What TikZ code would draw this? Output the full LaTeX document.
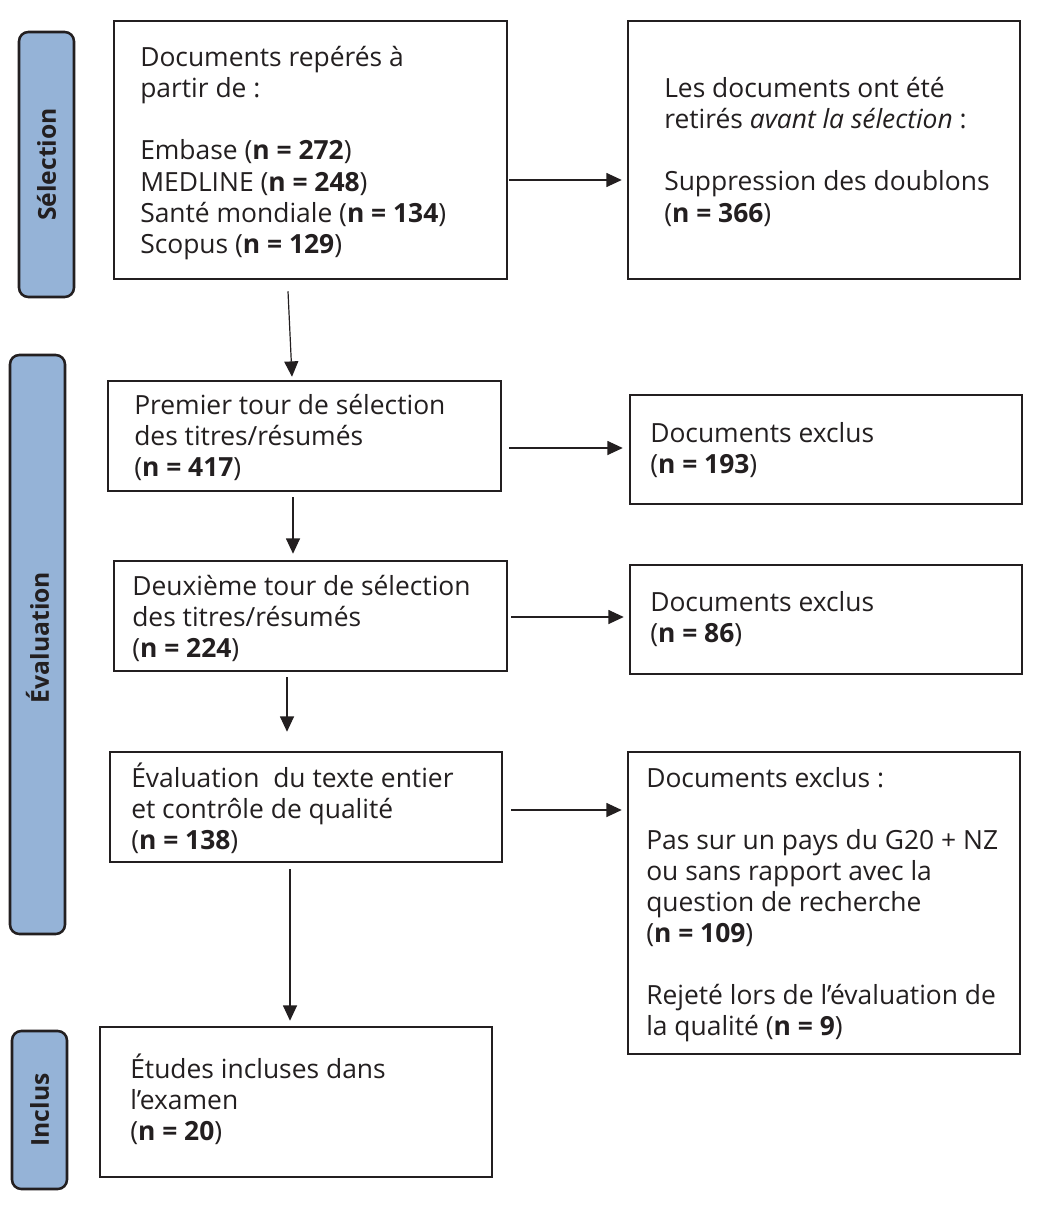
\documentclass[tikz,border=0pt]{standalone}
\usepackage{fontspec}
\setmainfont{Open Sans}
\usetikzlibrary{arrows.meta,calc}
\definecolor{tabblue}{RGB}{149,179,215}
\definecolor{ink}{RGB}{35,31,32}
\newcommand{\blankline}{\\[23.25pt]}
\newcommand{\tb}[1]{\parbox[t]{300pt}{\raggedright\fontsize{19.8pt}{23.25pt}\selectfont #1}}
\tikzset{
  box/.style={draw=ink, line width=1.9pt, inner sep=0pt, fill=white},
  tab/.style={draw=ink, line width=1.9pt, fill=tabblue, rounded corners=7pt, inner sep=0pt,
              font=\fontsize{18.5pt}{21pt}\selectfont\bfseries, text=ink},
  txt/.style={anchor=base west, inner sep=0pt, text=ink},
  arr/.style={draw=ink, line width=0.9pt, -{Triangle[length=11.5pt,width=10.5pt]}}
}
\begin{document}
\begin{tikzpicture}[x=0.75pt,y=-0.75pt]
\useasboundingbox[fill=white] (0,0) rectangle (1042,1206);

% side tabs
\node[tab, minimum width={55*0.75pt}, minimum height={265*0.75pt}] (tsel) at (46.5,164.5) {\rotatebox{90}{Sélection}};
\node[tab, minimum width={55*0.75pt}, minimum height={579*0.75pt}] (teval) at (37.5,644.5) {\rotatebox{90}{\hspace*{10.5pt}Évaluation}};
\node[tab, minimum width={55*0.75pt}, minimum height={158*0.75pt}] (tinc) at (39.5,1110) {\rotatebox{90}{Inclus}};

% boxes
\node[box, minimum width={393*0.75pt}, minimum height={258*0.75pt}] (b1) at (310.5,150) {};
\node[box, minimum width={392*0.75pt}, minimum height={258*0.75pt}] (r1) at (824,150) {};
\node[box, minimum width={393*0.75pt}, minimum height={110*0.75pt}] (b2) at (304.5,436) {};
\node[box, minimum width={392*0.75pt}, minimum height={109*0.75pt}] (r2) at (826,449.5) {};
\node[box, minimum width={393*0.75pt}, minimum height={110*0.75pt}] (b3) at (310.5,616) {};
\node[box, minimum width={392*0.75pt}, minimum height={109*0.75pt}] (r3) at (826,619.5) {};
\node[box, minimum width={392*0.75pt}, minimum height={110*0.75pt}] (b4) at (306,807) {};
\node[box, minimum width={392*0.75pt}, minimum height={302*0.75pt}] (r4) at (824,903) {};
\node[box, minimum width={392*0.75pt}, minimum height={150*0.75pt}] (b5) at (296,1102) {};

% texts
\node[txt] (x1) at (140,67) {\tb{Documents repérés à\\ partir de :\blankline Embase (\textbf{n = 272})\\ MEDLINE (\textbf{n = 248})\\ Santé mondiale (\textbf{n = 134})\\ Scopus (\textbf{n = 129})}};
\node[txt] (y1) at (664,98) {\tb{Les documents ont été\\ retirés \textit{avant la sélection} :\blankline Suppression des doublons\\ (\textbf{n = 366})}};
\node[txt] (x2) at (134,414) {\tb{Premier tour de sélection\\ des titres/résumés\\ (\textbf{n = 417})}};
\node[txt] (y2) at (650,442) {\tb{Documents exclus\\ (\textbf{n = 193})}};
\node[txt] (x3) at (132,595) {\tb{Deuxième tour de sélection\\ des titres/résumés\\ (\textbf{n = 224})}};
\node[txt] (y3) at (650,611) {\tb{Documents exclus\\ (\textbf{n = 86})}};
\node[txt] (x4) at (131,787) {\tb{Évaluation\ \ du texte entier\\ et contrôle de qualité\\ (\textbf{n = 138})}};
\node[txt] (y4) at (646,787) {\tb{Documents exclus :\blankline Pas sur un pays du G20 + NZ\\ ou sans rapport avec la\\ question de recherche\\ (\textbf{n = 109})\blankline Rejeté lors de l’évaluation de\\ la qualité (\textbf{n = 9})}};
\node[txt] (x5) at (130,1078) {\tb{Études incluses dans\\ l’examen\\ (\textbf{n = 20})}};

% vertical arrows
\draw[arr] ($(b1.south)+(-22.5,11)$) -- ($(b2.north)+(-12.5,-3)$);
\draw[arr] ($(b2.south)+(-11.5,5)$) -- ($(b3.north)+(-17.5,-6)$);
\draw[arr] ($(b3.south)+(-23.5,5)$) -- ($(b4.north)+(-19,-19)$);
\draw[arr] ($(b4.south)+(-16,6)$) -- ($(b5.north)+(-6,-5)$);

% horizontal arrows
\draw[arr] ($(b1.east)+(1,30)$) -- ($(r1.west)+(-5,30)$);
\draw[arr] ($(b2.east)+(7,12)$) -- ($(r2.west)+(-6,-1.5)$);
\draw[arr] ($(b3.east)+(3,1)$) -- ($(r3.west)+(-5,-2.5)$);
\draw[arr] ($(b4.east)+(8,3)$) -- ($(r4.west)+(-5,-93)$);
\end{tikzpicture}
\end{document}
